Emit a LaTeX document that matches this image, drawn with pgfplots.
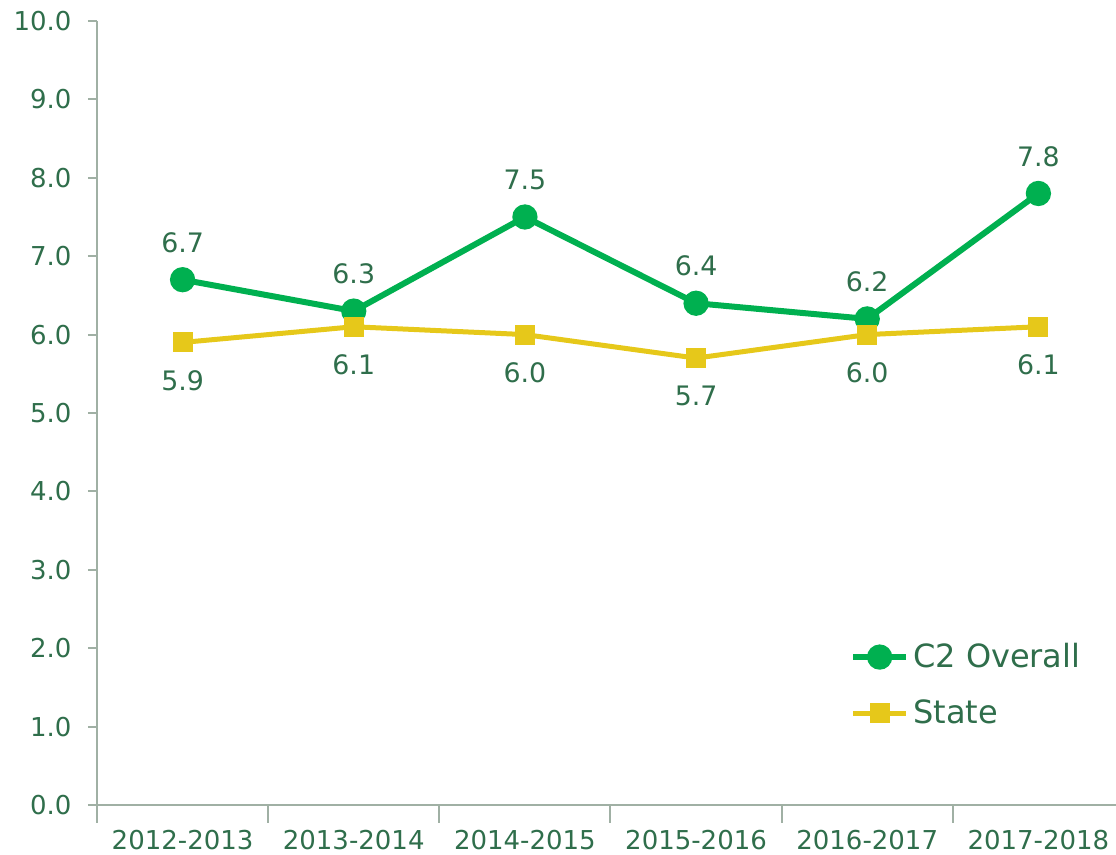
\documentclass[border=0pt]{standalone}
\usepackage{fontspec}
\setmainfont{DejaVu Sans}
\usepackage{pgfplots}
\pgfplotsset{compat=1.18}

\definecolor{txt}{HTML}{2F6E4B}
\definecolor{axl}{HTML}{A0B0A4}
\definecolor{cgreen}{HTML}{00B050}
\definecolor{cyellow}{HTML}{E6C81A}

\begin{document}
\begin{tikzpicture}
\begin{axis}[
  scale only axis,
  width=513.5pt, height=392pt,
  xmin=-0.5, xmax=5.5,
  ymin=0, ymax=10,
  axis x line*=bottom, axis y line*=left,
  axis line style={axl, line width=1pt, -},
  xtick={0,1,2,3,4,5},
  xticklabels={2012-2013,2013-2014,2014-2015,2015-2016,2016-2017,2017-2018},
  minor xtick={-0.5,0.5,1.5,2.5,3.5,4.5,5.5},
  major x tick style={draw=none},
  minor tick length=9pt,
  ytick={0,1,...,10},
  major tick length=4.5pt,
  tick align=outside,
  tick style={axl, line width=1pt},
  /pgf/number format/assume math mode=true,
  yticklabel style={/pgf/number format/fixed, /pgf/number format/fixed zerofill,
    /pgf/number format/precision=1, xshift=-4.7pt},
  ticklabel style={font=\fontsize{13}{15}\selectfont, text=txt},
  xticklabel style={yshift=-4.5pt},
  nodes near coords,
  nodes near coords style={font=\fontsize{13.4}{15}\selectfont, text=txt,
    /pgf/number format/fixed, /pgf/number format/fixed zerofill,
    /pgf/number format/precision=1},
  legend style={draw=none, fill=none, at={(0.733,0.2117)}, anchor=north west,
    font=\fontsize{16}{18}\selectfont, text=txt,
    row sep=10.5pt, inner sep=0pt},
  legend cell align=left,
  legend image code/.code={\draw[mark repeat=2, mark phase=2, #1]
    plot coordinates {(0pt,0pt) (13.25pt,0pt) (26.5pt,0pt)};},
]
\addplot[color=cgreen, line width=3pt, mark=*, mark size=4.8pt,
  every node near coord/.append style={anchor=center, yshift=18.5pt}]
  coordinates {(0,6.7) (1,6.3) (2,7.5) (3,6.4) (4,6.2) (5,7.8)};
\addlegendentry{C2 Overall}
\addplot[color=cyellow, line width=2.5pt, mark=square*, mark size=3.75pt,
  every node near coord/.append style={anchor=center, yshift=-19pt}]
  coordinates {(0,5.9) (1,6.1) (2,6.0) (3,5.7) (4,6.0) (5,6.1)};
\addlegendentry{State}
\end{axis}
\pgfresetboundingbox
\useasboundingbox (-48.5pt,-25pt) rectangle (509.5pt,402.5pt);
\end{tikzpicture}
\end{document}
